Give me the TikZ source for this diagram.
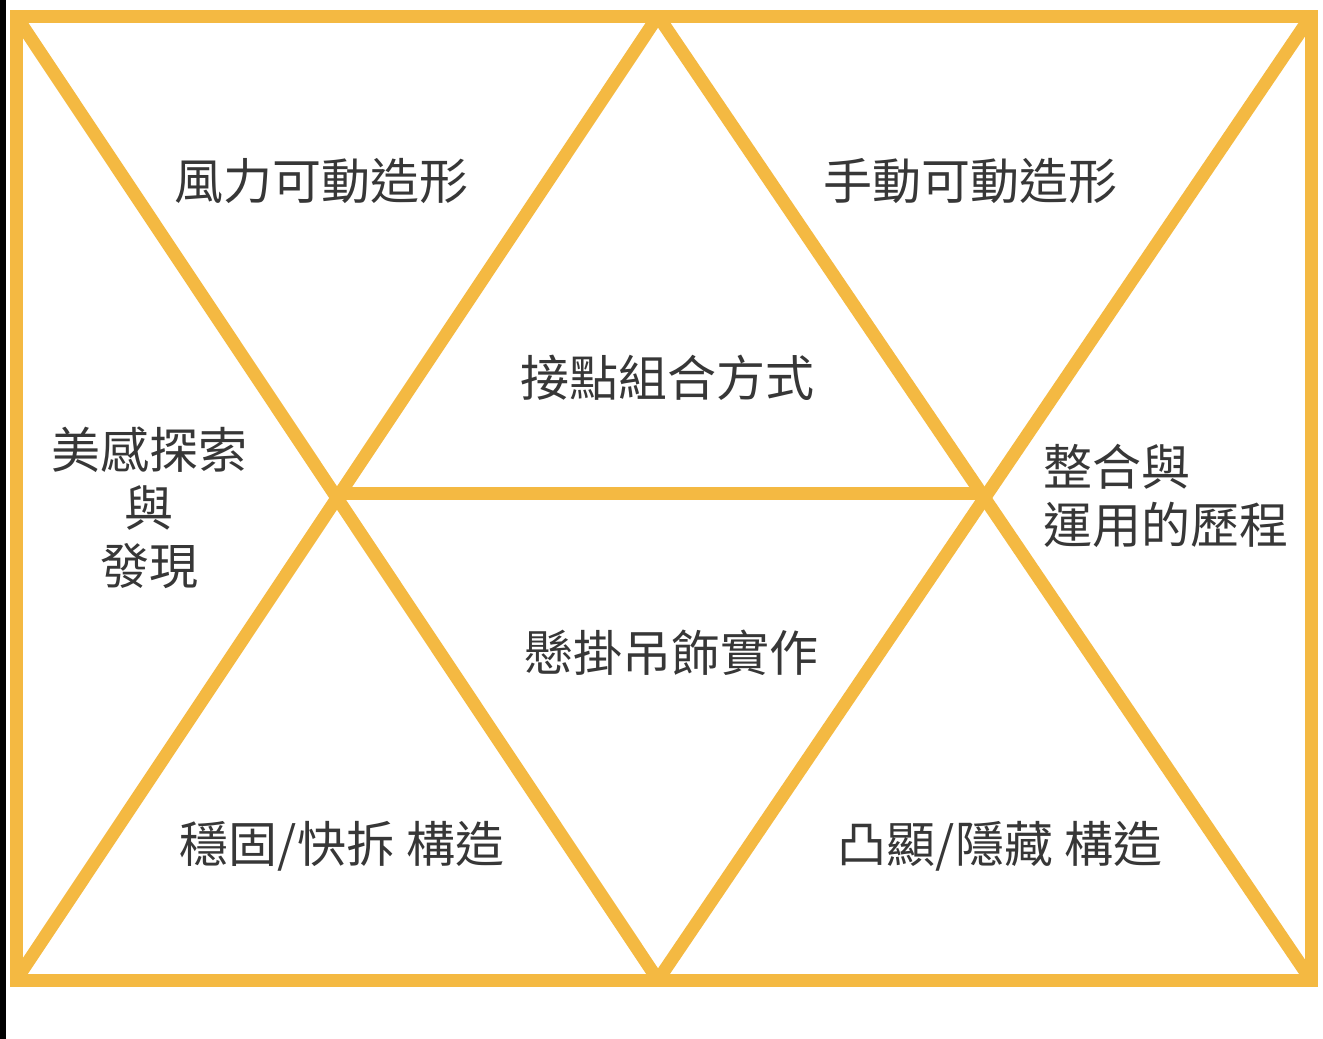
\documentclass[tikz,border=0pt]{standalone}
\usepackage{fontspec}
\newfontfamily\cjk{Noto Sans CJK TC}
\definecolor{gold}{RGB}{244,185,66}
\definecolor{txt}{RGB}{55,55,55}
\begin{document}
\begin{tikzpicture}[x=1pt,y=-1pt,
  band/.style={draw=gold,line width=13pt,line cap=butt,line join=miter},
  lbl/.style={font=\cjk\fontsize{49}{58}\selectfont,text=txt,inner sep=0pt}]
\useasboundingbox (0,0) rectangle (1323,1039);
\fill[white] (0,0) rectangle (1323,1039);
\fill[black] (0,0) rectangle (6,1039);
\coordinate (TL) at (16,16);
\coordinate (TM) at (658,16);
\coordinate (TR) at (1311,16);
\coordinate (BL) at (16,980);
\coordinate (BM) at (658,980);
\coordinate (BR) at (1311,980);
\coordinate (XL) at (337,493);
\coordinate (XR) at (984,493);
\draw[band] (TL) -- (BM);
\draw[band] (BL) -- (TM);
\draw[band] (TM) -- (BR);
\draw[band] (BM) -- (TR);
\draw[band] (XL) -- (XR);
\draw[band] (TL) -- (TR) -- (BR) -- (BL) -- cycle;
\node[lbl] (a) at (321,181) {風力可動造形};
\node[lbl] (b) at (970,181) {手動可動造形};
\node[lbl] (c) at (667,378) {接點組合方式};
\node[lbl] (d) at (671,653) {懸掛吊飾實作};
\node[lbl,align=center] (e) at (149,508) {美感探索\\與\\發現};
\node[lbl,align=left,anchor=west] (f) at (1043,496) {整合與\\運用的歷程};
\node[lbl] (g) at (342,846) {穩固/快拆 構造};
\node[lbl] (h) at (1000,846) {凸顯/隱藏 構造};
\end{tikzpicture}
\end{document}
